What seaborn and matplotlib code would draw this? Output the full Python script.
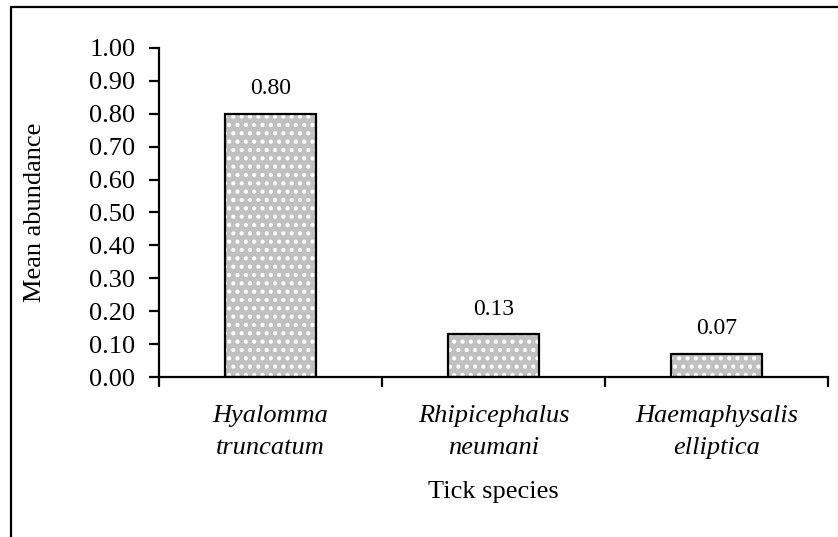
import matplotlib
matplotlib.use("Agg")
import matplotlib.pyplot as plt
from matplotlib.lines import Line2D
from matplotlib.patches import Rectangle
from matplotlib.ticker import FixedLocator, MultipleLocator, FormatStrFormatter
import seaborn as sns
import pandas as pd

species = ["Hyalomma\ntruncatum", "Rhipicephalus\nneumani", "Haemaphysalis\nelliptica"]
mean_abundance = [0.80, 0.13, 0.07]
value_labels = ["0.80", "0.13", "0.07"]

sns.set_style("white")
plt.rcParams["font.family"] = ["Liberation Serif", "DejaVu Serif"]
plt.rcParams["text.color"] = "black"
plt.rcParams["axes.labelcolor"] = "black"
plt.rcParams["hatch.linewidth"] = 1.8

df = pd.DataFrame({"species": species, "abundance": mean_abundance})

fig = plt.figure(figsize=(8.38, 5.37), dpi=100)
ax = fig.add_axes([159 / 838, 1 - 377 / 537, (828 - 159) / 838, (377 - 48) / 537])

sns.barplot(data=df, x="species", y="abundance", ax=ax, width=0.41,
            color="#c0c0c0", saturation=1, errorbar=None)

# white dotted fill, then a black outline on top of each bar
for p in ax.patches:
    p.set_facecolor("#c0c0c0")
    p.set_edgecolor("white")
    p.set_hatch("..")
    p.set_linewidth(0)
    ax.add_patch(Rectangle(p.get_xy(), p.get_width(), p.get_height(),
                           fill=False, edgecolor="black", linewidth=1.6, zorder=3))

for i, (v, lab) in enumerate(zip(mean_abundance, value_labels)):
    ax.annotate(lab, (i, v), xytext=(0, 18), textcoords="offset points",
                ha="center", va="center", fontsize=17, color="black")

ax.set_xlim(-0.5, 2.5)
ax.set_ylim(0, 1.0)
ax.yaxis.set_major_locator(MultipleLocator(0.1))
ax.yaxis.set_major_formatter(FormatStrFormatter("%.2f"))
ax.xaxis.set_minor_locator(FixedLocator([-0.5, 0.5, 1.5, 2.5]))

for s in ["top", "right"]:
    ax.spines[s].set_visible(False)
for s in ["left", "bottom"]:
    ax.spines[s].set_linewidth(1.6)
    ax.spines[s].set_color("black")

ax.tick_params(axis="y", which="major", direction="out", length=7, width=1.6,
               labelsize=19, pad=10, left=True, colors="black")
ax.tick_params(axis="x", which="major", length=0, labelsize=19, pad=20.5,
               labelcolor="black")
ax.tick_params(axis="x", which="minor", direction="out", length=7, width=1.6,
               bottom=True, colors="black")
for t in ax.get_xticklabels():
    t.set_fontstyle("italic")
    t.set_linespacing(1.55)

ax.set_ylabel("Mean abundance", fontsize=19)
ax.yaxis.label.set_verticalalignment("center")
ax.yaxis.set_label_coords((35 - 159) / 669, 0.5)
ax.set_xlabel("Tick species", fontsize=19)
ax.xaxis.label.set_verticalalignment("center")
ax.xaxis.set_label_coords(0.5, (377 - 492) / 329)

# outer frame lines (top and left)
fx = 11 / 838
fy = 1 - 7 / 537
fig.add_artist(Line2D([fx, fx], [0, fy], transform=fig.transFigure, color="black", lw=1.6))
fig.add_artist(Line2D([fx, 1], [fy, fy], transform=fig.transFigure, color="black", lw=1.6))

fig.savefig("out.png", dpi=100)
